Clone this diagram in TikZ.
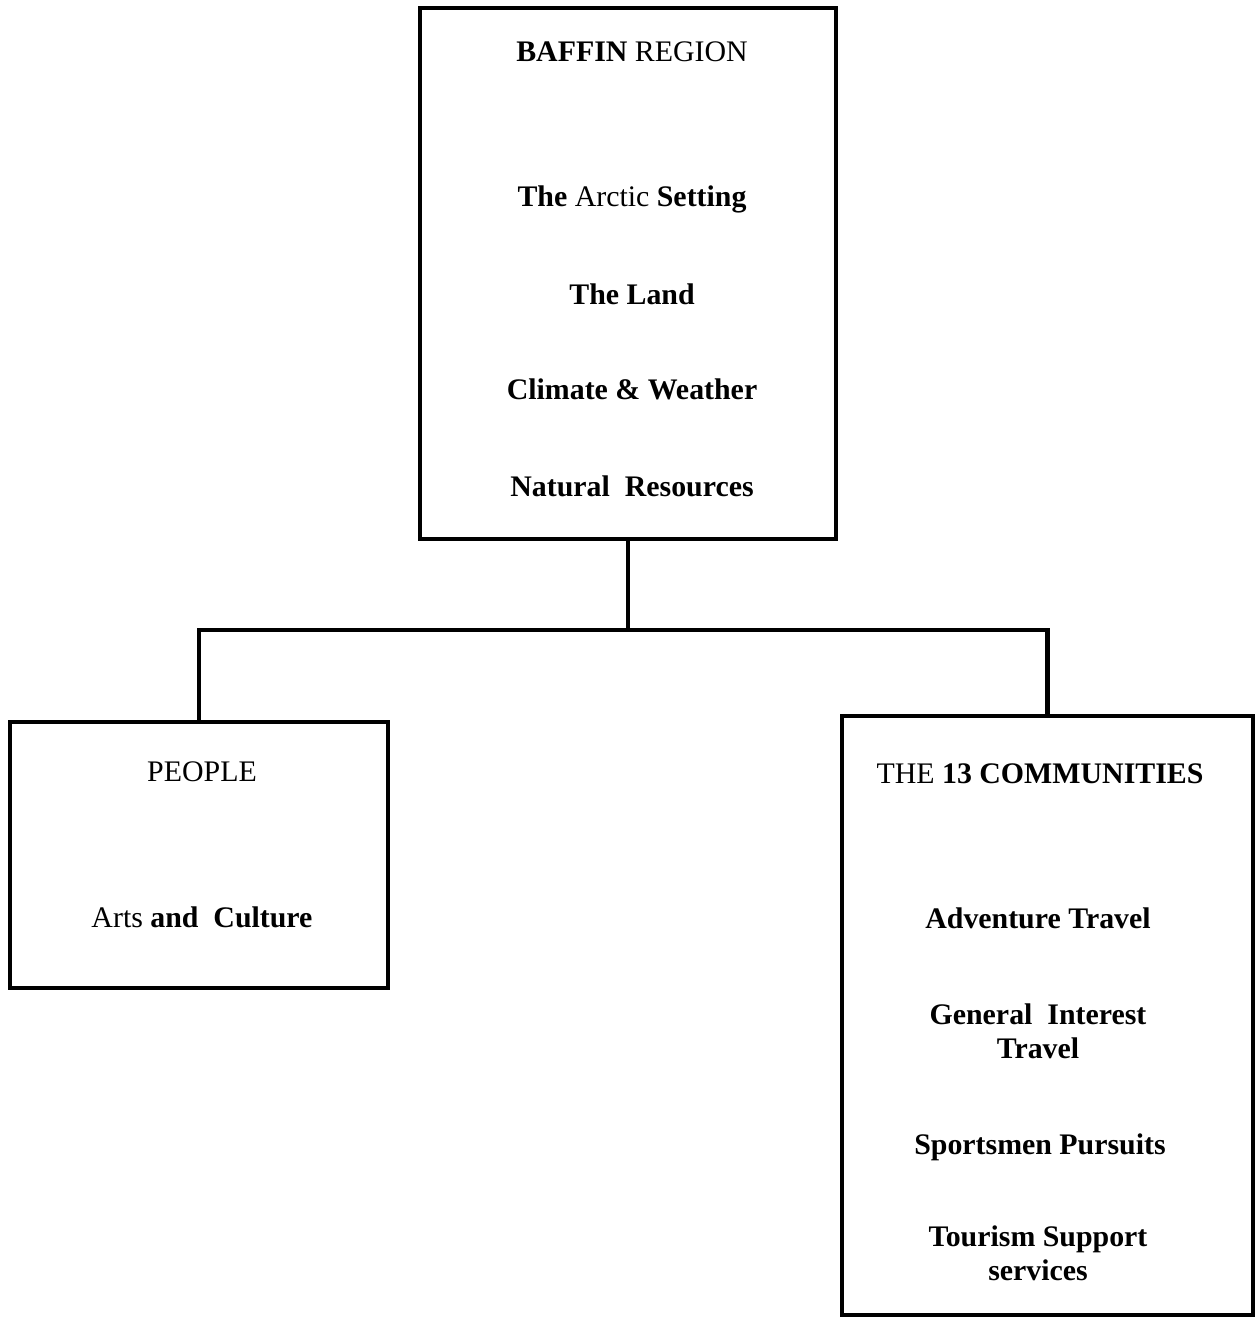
\documentclass[tikz,border=0pt]{standalone}
\usepackage{fontspec}
\setmainfont{Liberation Serif}
\usepackage{tikz}
\usetikzlibrary{positioning}

\tikzset{
  box/.style={draw, line width=2.3pt, rectangle, inner sep=0pt},
  label/.style={font=\fontsize{17}{19.5}\selectfont, align=center, inner sep=0pt},
  link/.style={line width=2.3pt}
}

\begin{document}
\begin{tikzpicture}[x=0.02cm, y=-0.02cm]
\useasboundingbox (0,0) rectangle (1257,1318);
% boxes
\node[box, minimum width=8.32cm, minimum height=10.62cm] (region) at (628,273.5) {};
\node[box, minimum width=7.56cm, minimum height=5.32cm] (people) at (199,855) {};
\node[box, minimum width=8.22cm, minimum height=11.98cm] (comm) at (1047.5,1015.5) {};
% texts of the region box
\node[label] (t1) at (632,52) {\textbf{BAFFIN} REGION};
\node[label] (t2) at (632,199) {\textbf{The} Arctic \textbf{Setting}};
\node[label] (t3) at (632,294) {\textbf{The Land}};
\node[label] (t4) at (632,389) {\textbf{Climate \& Weather}};
\node[label] (t5) at (632,486) {\textbf{Natural\ \ Resources}};
% texts of the people box
\node[label] (p1) at (202,772) {PEOPLE};
\node[label] (p2) at (202,917) {Arts \textbf{and\ \ Culture}};
% texts of the communities box
\node[label] (c1) at (1040,774) {THE \textbf{13 COMMUNITIES}};
\node[label] (c2) at (1038,918) {\textbf{Adventure Travel}};
\node[label] (c3) at (1038,1031) {\textbf{General\ \ Interest}\\\textbf{Travel}};
\node[label] (c4) at (1040,1147) {\textbf{Sportsmen Pursuits}};
\node[label] (c5) at (1038,1253) {\textbf{Tourism Support}\\\textbf{services}};
% connectors
\coordinate (hub) at (628,630);
\draw[link] (region.south) -- (hub);
\draw[link] (people.north) |- (hub) -| (comm.north);
\end{tikzpicture}
\end{document}
